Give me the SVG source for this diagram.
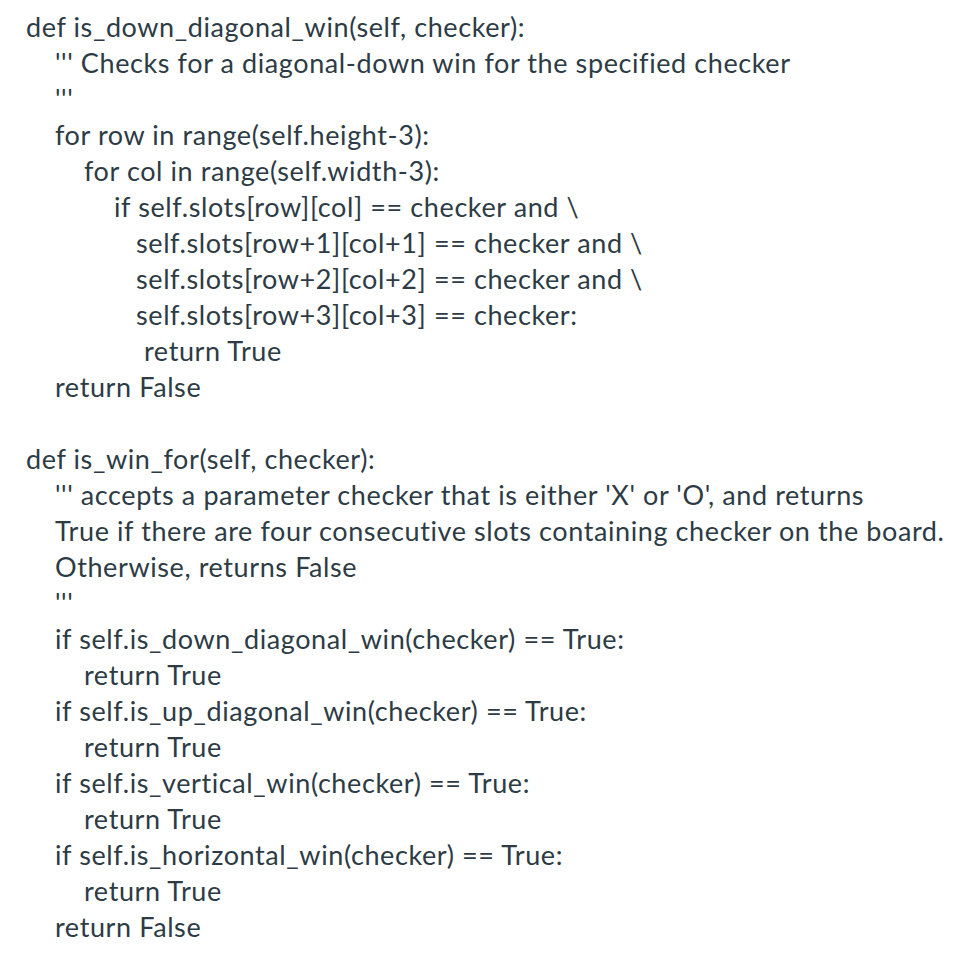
<svg xmlns="http://www.w3.org/2000/svg" width="966" height="964" viewBox="0 0 966 964">
<style>text{font-family:Lato,"Liberation Sans",sans-serif;font-size:27px;letter-spacing:0.6px;fill:#2d3b45;white-space:pre}</style>
<rect width="966" height="964" fill="#fff"/>
<g id="code">
<text x="26" y="37">def is_down_diagonal_win(self, checker):</text>
<text x="55" y="73">''' Checks for a diagonal-down win for the specified checker</text>
<text x="55" y="109">'''</text>
<text x="55" y="145">for row in range(self.height-3):</text>
<text x="84" y="181">for col in range(self.width-3):</text>
<text x="114" y="217">if self.slots[row][col] == checker and \</text>
<text x="136" y="253">self.slots[row+1][col+1] == checker and \</text>
<text x="136" y="289">self.slots[row+2][col+2] == checker and \</text>
<text x="136" y="325">self.slots[row+3][col+3] == checker:</text>
<text x="144" y="361">return True</text>
<text x="55" y="397">return False</text>
<text x="26" y="469">def is_win_for(self, checker):</text>
<text x="55" y="505">''' accepts a parameter checker that is either 'X' or 'O', and returns</text>
<text x="55" y="541">True if there are four consecutive slots containing checker on the board.</text>
<text x="55" y="577">Otherwise, returns False</text>
<text x="55" y="613">'''</text>
<text x="55" y="649">if self.is_down_diagonal_win(checker) == True:</text>
<text x="84" y="685">return True</text>
<text x="55" y="721">if self.is_up_diagonal_win(checker) == True:</text>
<text x="84" y="757">return True</text>
<text x="55" y="793">if self.is_vertical_win(checker) == True:</text>
<text x="84" y="829">return True</text>
<text x="55" y="865">if self.is_horizontal_win(checker) == True:</text>
<text x="84" y="901">return True</text>
<text x="55" y="937">return False</text>
</g>
</svg>
